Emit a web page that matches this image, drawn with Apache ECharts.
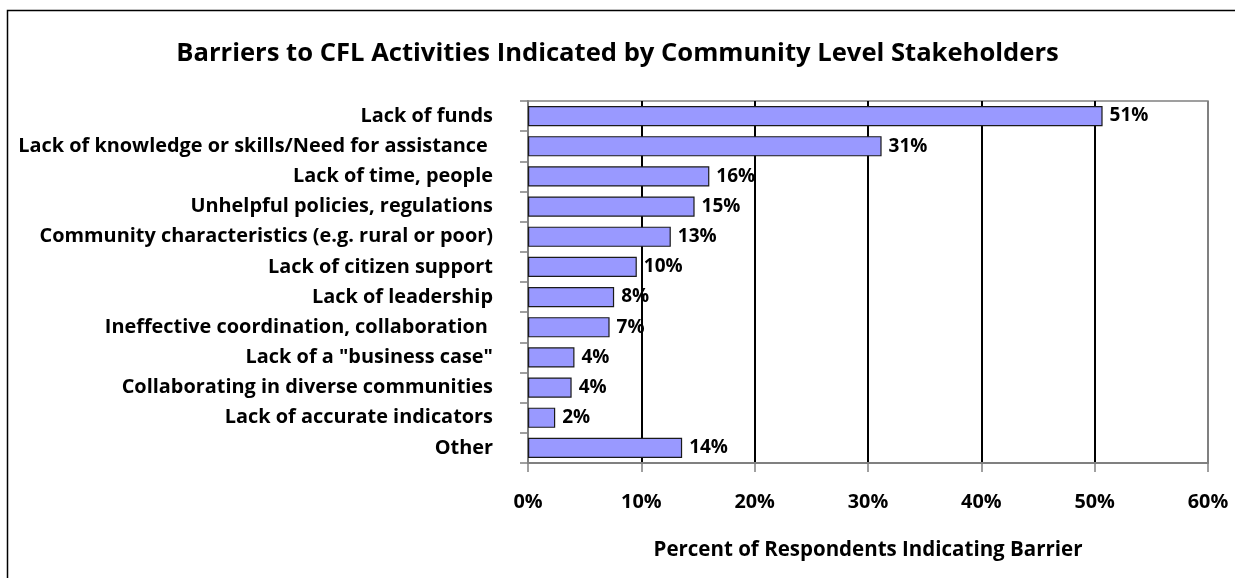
<!DOCTYPE html>
<html>
<head>
<meta charset="utf-8">
<script src="https://cdn.jsdelivr.net/npm/echarts@6/dist/echarts.min.js"></script>
<style>
html,body{margin:0;padding:0;background:#fff;}
#chart{width:1235px;height:578px;}
</style>
</head>
<body>
<div id="chart"></div>
<script>
const categories = [
  "Lack of funds",
  "Lack of knowledge or skills/Need for assistance ",
  "Lack of time, people",
  "Unhelpful policies, regulations",
  "Community characteristics (e.g. rural or poor)",
  "Lack of citizen support",
  "Lack of leadership",
  "Ineffective coordination, collaboration ",
  "Lack of a \"business case\"",
  "Collaborating in diverse communities",
  "Lack of accurate indicators",
  "Other"
];
const values = [50.7, 31.2, 16.0, 14.7, 12.6, 9.6, 7.6, 7.2, 4.1, 3.85, 2.4, 13.6];
const tickValues = [0, 10, 20, 30, 40, 50, 60];
const titleText = "Barriers to CFL Activities Indicated by Community Level Stakeholders";
const xAxisTitle = "Percent of Respondents Indicating Barrier";

const FONT = "'Open Sans', Lato, sans-serif";
const chart = echarts.init(document.getElementById('chart'), null, {renderer: 'canvas'});
chart.setOption({
  animation: false,
  backgroundColor: '#fff',
  title: {
    text: titleText,
    left: 'center',
    top: 36,
    textStyle: {fontFamily: FONT, fontWeight: 'bold', fontSize: 25.6, color: '#000'}
  },
  graphic: [{
    type: 'rect',
    shape: {x: 7.5, y: 10.5, width: 1400, height: 800},
    style: {fill: 'none', stroke: '#000', lineWidth: 1.5},
    silent: true,
    z: 100
  }],
  grid: {
    left: 528, right: 27, top: 101, bottom: 115,
    show: true, borderColor: '#808080', borderWidth: 1.5, backgroundColor: '#fff'
  },
  xAxis: {
    type: 'value',
    min: tickValues[0],
    max: tickValues[tickValues.length - 1],
    interval: 10,
    name: xAxisTitle,
    nameLocation: 'middle',
    nameGap: 77,
    nameTextStyle: {fontFamily: FONT, fontWeight: 'bold', fontSize: 20.5, color: '#000'},
    axisLine: {show: true, lineStyle: {color: '#808080', width: 2}},
    axisTick: {show: true, length: 9, lineStyle: {color: '#808080', width: 1.5}},
    axisLabel: {
      margin: 29,
      fontFamily: FONT, fontWeight: 'bold', fontSize: 19.8, color: '#000',
      formatter: v => v + '%'
    },
    splitLine: {show: true, lineStyle: {color: ['#808080', '#000', '#000', '#000', '#000', '#000', '#808080'], width: 2}}
  },
  yAxis: {
    type: 'category',
    data: categories,
    inverse: true,
    axisLine: {show: true, lineStyle: {color: '#808080', width: 2}},
    axisTick: {show: true, length: 8, lineStyle: {color: '#808080', width: 1.5}},
    axisLabel: {
      margin: 35,
      fontFamily: FONT, fontWeight: 'bold', fontSize: 19.9, color: '#000'
    },
    splitLine: {show: false}
  },
  series: [{
    type: 'bar',
    data: values,
    barCategoryGap: '33%',
    itemStyle: {color: '#9999FF', borderColor: '#1a1a1a', borderWidth: 1.2},
    label: {
      show: true,
      position: 'right',
      distance: 7,
      fontFamily: FONT, fontWeight: 'bold', fontSize: 19, color: '#000',
      formatter: p => Math.round(p.value) + '%'
    },
    z: 3
  }]
});
</script>
</body>
</html>
